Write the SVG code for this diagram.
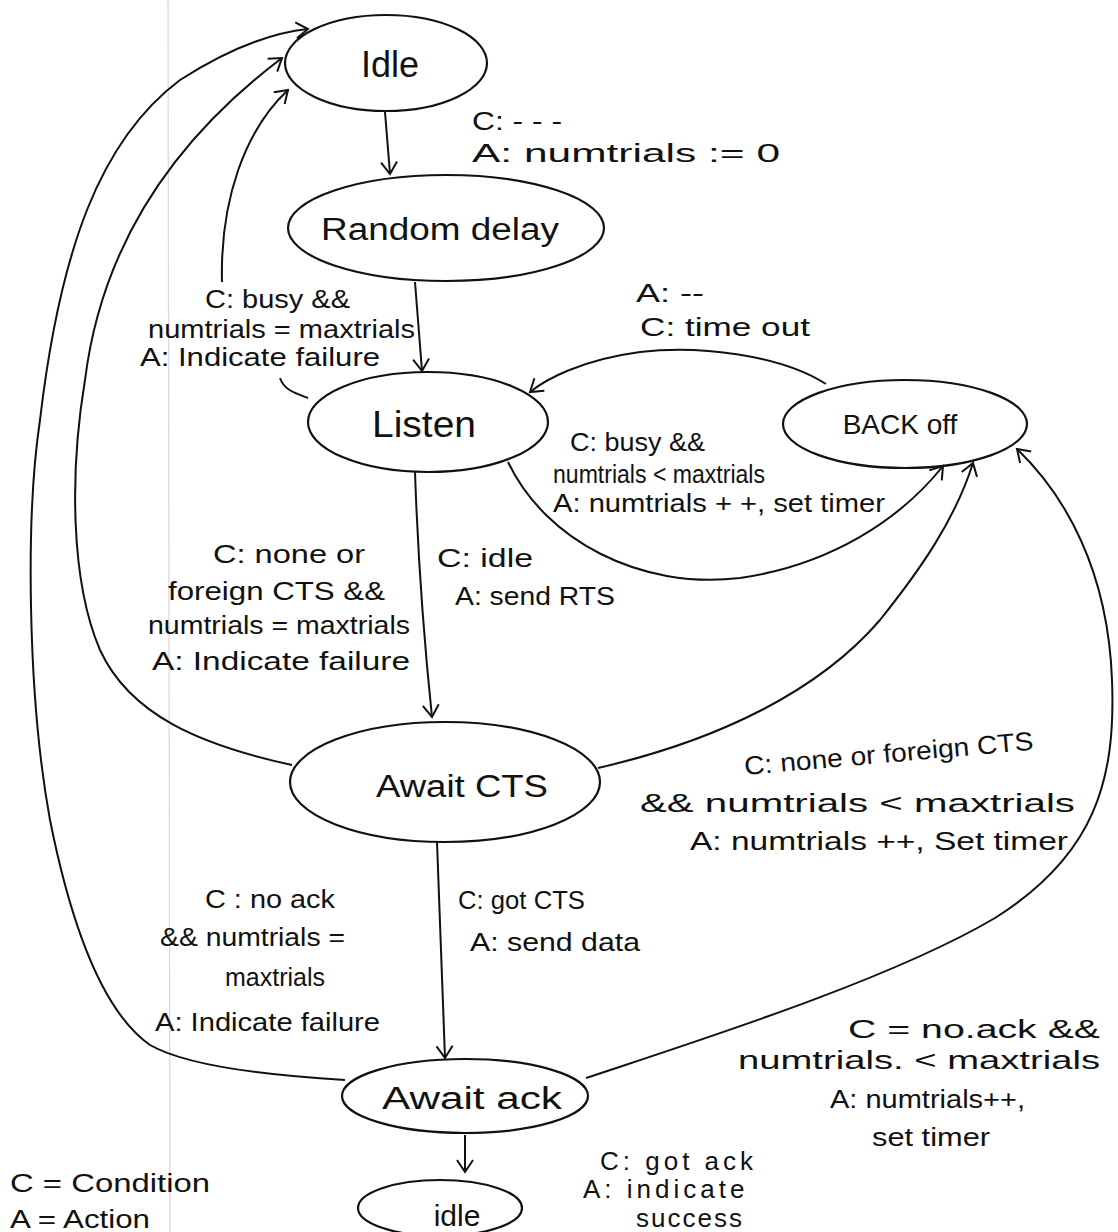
<svg xmlns="http://www.w3.org/2000/svg" width="1118" height="1232" viewBox="0 0 1118 1232">
  <style>
    .node ellipse { fill: none; stroke: #111; stroke-width: 2.2; }
    .name { font-family: "Liberation Sans", "DejaVu Sans", sans-serif; fill: #111; text-anchor: middle; }
    .lbl { font-family: "Liberation Sans", "DejaVu Sans", sans-serif; fill: #111; font-size: 26px; }
    #connectors path { fill: none; stroke: #111; stroke-width: 2; }
  </style>
  <defs>
    <marker id="arr" viewBox="-14 -10 16 20" refX="0" refY="0" markerWidth="16" markerHeight="20" markerUnits="userSpaceOnUse" orient="auto">
      <path d="M-12,-8 L0,0 L-12,8" fill="none" stroke="#111" stroke-width="2"/>
    </marker>
  </defs>
  <rect width="1118" height="1232" fill="#ffffff"/>
  <!-- paper margin rule -->
  <line x1="168" y1="0" x2="170" y2="1232" stroke="#d8d8d8" stroke-width="1.2"/>

  <!-- states -->
  <g id="idle-start" class="node">
    <ellipse cx="386" cy="63" rx="101" ry="48"/>
    <text class="name" x="390" y="77" font-size="36">Idle</text>
  </g>
  <g id="random-delay" class="node">
    <ellipse cx="446" cy="228" rx="158" ry="53"/>
    <text class="name" x="440" y="240" font-size="31" textLength="238" lengthAdjust="spacingAndGlyphs">Random delay</text>
  </g>
  <g id="listen" class="node">
    <ellipse cx="428" cy="422" rx="120" ry="50"/>
    <text class="name" x="424" y="437" font-size="36" textLength="104" lengthAdjust="spacingAndGlyphs">Listen</text>
  </g>
  <g id="back-off" class="node">
    <ellipse cx="905" cy="424" rx="122" ry="44"/>
    <text class="name" x="900" y="434" font-size="28">BACK off</text>
  </g>
  <g id="await-cts" class="node">
    <ellipse cx="445" cy="782" rx="155" ry="60"/>
    <text class="name" x="462" y="797" font-size="31" textLength="172" lengthAdjust="spacingAndGlyphs">Await CTS</text>
  </g>
  <g id="await-ack" class="node">
    <ellipse cx="465" cy="1096" rx="123" ry="37"/>
    <text class="name" x="472" y="1109" font-size="31" textLength="180" lengthAdjust="spacingAndGlyphs">Await ack</text>
  </g>
  <g id="idle-end" class="node">
    <ellipse cx="440" cy="1208" rx="82" ry="28"/>
    <text class="name" x="457" y="1226" font-size="30">idle</text>
  </g>

  <!-- transitions -->
  <g id="connectors">
    <path d="M385,112 L390,174" marker-end="url(#arr)"/>
    <path d="M415,282 L422,371" marker-end="url(#arr)"/>
    <path d="M308,398 C295,393 284,390 280,378"/>
    <path d="M222,282 C220,200 245,130 288,90" marker-end="url(#arr)"/>
    <path d="M292,765 C200,745 130,715 100,650 C70,580 70,470 85,380 C100,260 160,150 282,58" marker-end="url(#arr)"/>
    <path d="M345,1080 C260,1075 185,1065 150,1045 C100,1010 70,920 50,820 C28,700 25,520 40,420 C60,250 100,140 180,80 C230,48 270,33 308,29" marker-end="url(#arr)"/>
    <path d="M508,462 C545,540 640,590 740,578 C830,565 900,520 943,466" marker-end="url(#arr)"/>
    <path d="M826,384 C780,355 700,345 640,352 C580,360 545,380 530,392" marker-end="url(#arr)"/>
    <path d="M415,472 C418,560 425,650 432,717" marker-end="url(#arr)"/>
    <path d="M598,768 C720,740 820,690 880,620 C920,570 955,520 973,463" marker-end="url(#arr)"/>
    <path d="M437,842 L445,1058" marker-end="url(#arr)"/>
    <path d="M586,1078 C700,1040 890,980 995,918 C1095,855 1116,780 1112,680 C1108,570 1065,495 1017,449" marker-end="url(#arr)"/>
    <path d="M465,1135 L465,1172" marker-end="url(#arr)"/>
  </g>

  <!-- transition labels -->
  <g id="labels">
    <text class="lbl" x="472" y="130" font-size="24" textLength="90" lengthAdjust="spacingAndGlyphs">C:  - - -</text>
    <text class="lbl" x="472" y="162" font-size="28" textLength="308" lengthAdjust="spacingAndGlyphs">A:  numtrials := 0</text>

    <text class="lbl" x="205" y="308" textLength="145" lengthAdjust="spacingAndGlyphs">C: busy &amp;&amp;</text>
    <text class="lbl" x="148" y="338" textLength="267" lengthAdjust="spacingAndGlyphs">numtrials = maxtrials</text>
    <text class="lbl" x="140" y="366" textLength="240" lengthAdjust="spacingAndGlyphs">A: Indicate failure</text>

    <text class="lbl" x="636" y="302" textLength="68" lengthAdjust="spacingAndGlyphs">A: --</text>
    <text class="lbl" x="640" y="336" textLength="170" lengthAdjust="spacingAndGlyphs">C: time out</text>

    <text class="lbl" x="570" y="451" textLength="135" lengthAdjust="spacingAndGlyphs">C: busy &amp;&amp;</text>
    <text class="lbl" x="553" y="483" font-size="22" textLength="212" lengthAdjust="spacingAndGlyphs">numtrials &lt; maxtrials</text>
    <text class="lbl" x="553" y="512" textLength="332" lengthAdjust="spacingAndGlyphs">A: numtrials + +, set timer</text>

    <text class="lbl" x="213" y="563" textLength="152" lengthAdjust="spacingAndGlyphs">C: none or</text>
    <text class="lbl" x="168" y="600" textLength="217" lengthAdjust="spacingAndGlyphs">foreign CTS &amp;&amp;</text>
    <text class="lbl" x="148" y="634" textLength="262" lengthAdjust="spacingAndGlyphs">numtrials = maxtrials</text>
    <text class="lbl" x="152" y="670" textLength="258" lengthAdjust="spacingAndGlyphs">A: Indicate failure</text>

    <text class="lbl" x="437" y="567" textLength="96" lengthAdjust="spacingAndGlyphs">C: idle</text>
    <text class="lbl" x="455" y="605" textLength="160" lengthAdjust="spacingAndGlyphs">A: send RTS</text>

    <text class="lbl" x="745" y="775" textLength="290" lengthAdjust="spacingAndGlyphs" transform="rotate(-5 745 775)">C: none or foreign CTS</text>
    <text class="lbl" x="640" y="812" textLength="435" lengthAdjust="spacingAndGlyphs">&amp;&amp; numtrials &lt; maxtrials</text>
    <text class="lbl" x="690" y="850" textLength="378" lengthAdjust="spacingAndGlyphs">A: numtrials ++, Set timer</text>

    <text class="lbl" x="205" y="908" textLength="130" lengthAdjust="spacingAndGlyphs">C : no ack</text>
    <text class="lbl" x="160" y="946" textLength="185" lengthAdjust="spacingAndGlyphs">&amp;&amp; numtrials =</text>
    <text class="lbl" x="225" y="986" textLength="100" lengthAdjust="spacingAndGlyphs">maxtrials</text>
    <text class="lbl" x="155" y="1031" textLength="225" lengthAdjust="spacingAndGlyphs">A: Indicate failure</text>

    <text class="lbl" x="458" y="909" font-size="24" textLength="127" lengthAdjust="spacingAndGlyphs">C: got CTS</text>
    <text class="lbl" x="470" y="951" textLength="170" lengthAdjust="spacingAndGlyphs">A: send data</text>

    <text class="lbl" x="848" y="1038" textLength="252" lengthAdjust="spacingAndGlyphs">C = no.ack &amp;&amp;</text>
    <text class="lbl" x="738" y="1069" textLength="362" lengthAdjust="spacingAndGlyphs">numtrials.  &lt; maxtrials</text>
    <text class="lbl" x="830" y="1108" textLength="195" lengthAdjust="spacingAndGlyphs">A: numtrials++,</text>
    <text class="lbl" x="872" y="1146" textLength="118" lengthAdjust="spacingAndGlyphs">set timer</text>

    <text class="lbl" x="600" y="1170" font-size="22" letter-spacing="4">C: got ack</text>
    <text class="lbl" x="583" y="1198" font-size="22" letter-spacing="4">A: indicate</text>
    <text class="lbl" x="636" y="1227" font-size="15" letter-spacing="2">success</text>
  </g>

  <!-- legend -->
  <g id="legend">
    <text class="lbl" x="10" y="1192" textLength="200" lengthAdjust="spacingAndGlyphs">C = Condition</text>
    <text class="lbl" x="10" y="1228" textLength="140" lengthAdjust="spacingAndGlyphs">A = Action</text>
  </g>
</svg>
